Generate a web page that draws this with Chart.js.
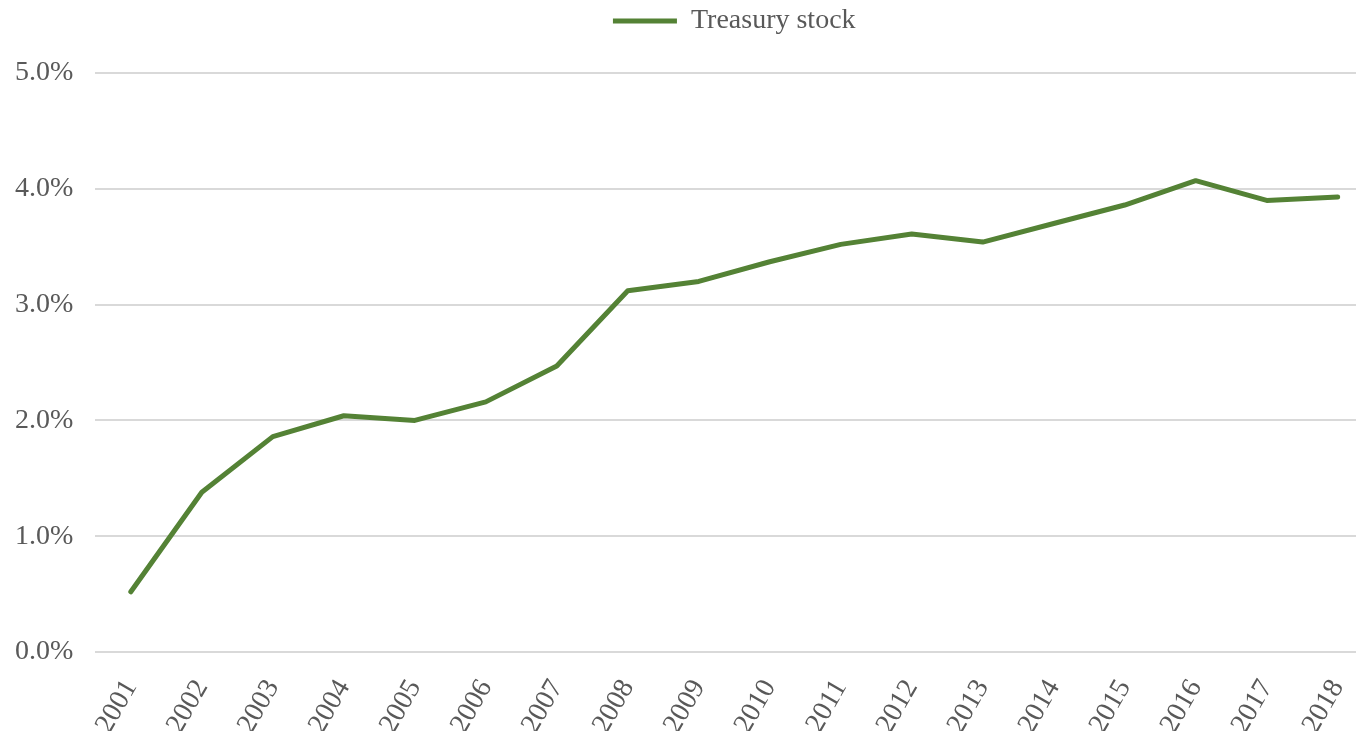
<!DOCTYPE html>
<html>
<head>
<meta charset="utf-8">
<script src="https://cdn.jsdelivr.net/npm/chart.js@4.4.1/dist/chart.umd.min.js"></script>
<style>
  html, body { margin: 0; padding: 0; background: #ffffff; overflow: hidden; }
  /* plot runs past the right edge in the original, so the canvas is wider than the window */
  #wrap { width: 1402px; height: 731px; margin-left: -21px; }
</style>
</head>
<body>
<div id="wrap"><canvas id="grafico"></canvas></div>
<script>
// categories and values
const anos = ["2001", "2002", "2003", "2004", "2005", "2006", "2007", "2008", "2009",
  "2010", "2011", "2012", "2013", "2014", "2015", "2016", "2017", "2018"];
const treasuryStock = [0.52, 1.38, 1.86, 2.04, 2.00, 2.16, 2.47, 3.12, 3.20,
  3.37, 3.52, 3.61, 3.54, 3.70, 3.86, 4.07, 3.90, 3.93];
const ticksY = [0, 1, 2, 3, 4, 5];

const VERDE = "#548235";
const CINZA_TEXTO = "#595959";
const FONTE = "'Liberation Serif', 'Times New Roman', serif";

// espaço extra abaixo da legenda
const legendaEspaco = {
  id: "legendaEspaco",
  beforeInit(chart) {
    const fitOriginal = chart.legend.fit;
    chart.legend.fit = function () {
      fitOriginal.bind(chart.legend)();
      this.height += 28;
    };
  }
};

const ctx = document.getElementById("grafico").getContext("2d");

new Chart(ctx, {
  type: "line",
  data: {
    labels: anos,
    datasets: [{
      label: "Treasury stock",
      data: treasuryStock,
      borderColor: VERDE,
      backgroundColor: VERDE,
      borderWidth: 5,
      borderCapStyle: "round",
      borderJoinStyle: "round",
      pointRadius: 0,
      tension: 0,
      fill: false
    }]
  },
  plugins: [legendaEspaco],
  options: {
    responsive: true,
    maintainAspectRatio: false,
    animation: false,
    layout: { padding: { left: 14, right: 0, top: 0, bottom: 0 } },
    plugins: {
      tooltip: { enabled: false },
      legend: {
        position: "top",
        fullSize: false,
        labels: {
          usePointStyle: true,
          pointStyle: "line",
          pointStyleWidth: 64,
          color: CINZA_TEXTO,
          font: { family: FONTE, size: 28 },
          padding: 7
        }
      }
    },
    scales: {
      x: {
        offset: true,
        grid: { display: false },
        border: { display: false },
        afterFit: s => { s.height = 79; },
        ticks: {
          color: CINZA_TEXTO,
          font: { family: FONTE, size: 28 },
          minRotation: 60,
          maxRotation: 60,
          padding: 14
        }
      },
      y: {
        min: 0,
        max: 5,
        afterBuildTicks: axis => { axis.ticks = ticksY.map(v => ({ value: v })); },
        grid: { color: "#d9d9d9", lineWidth: 2, drawTicks: false },
        border: { display: false },
        ticks: {
          color: CINZA_TEXTO,
          font: { family: FONTE, size: 28 },
          padding: 22,
          callback: v => v.toFixed(1) + "%"
        }
      }
    }
  }
});
</script>
</body>
</html>
